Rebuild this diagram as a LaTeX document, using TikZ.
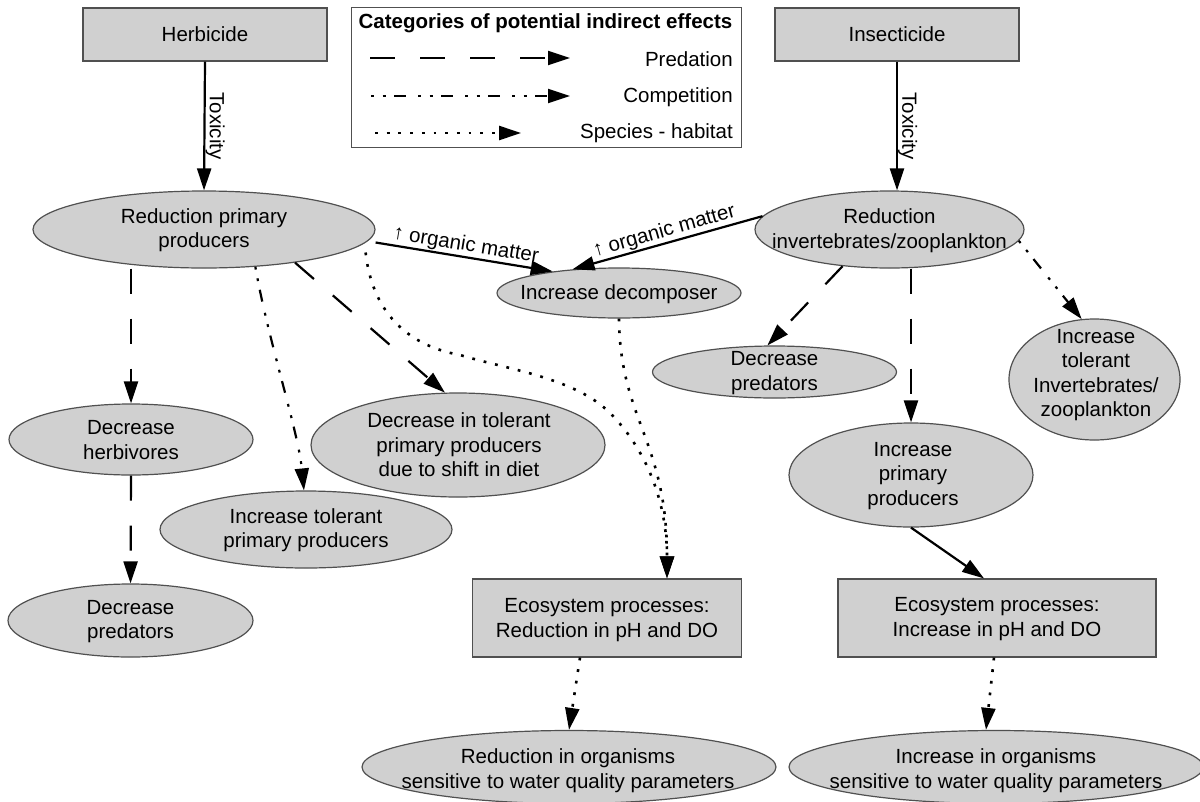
\documentclass[tikz,border=0pt]{standalone}
\usepackage{fontspec}
\setmainfont{Liberation Sans}
\usetikzlibrary{shapes.geometric,arrows.meta}
\definecolor{boxfill}{RGB}{208,208,208}
\definecolor{boxline}{RGB}{80,80,80}
\begin{document}
\begin{tikzpicture}[x=1pt,y=-1pt,
  font=\fontsize{20.5}{24.5}\selectfont,
  ell/.style={ellipse, draw=boxline, fill=boxfill, line width=1.2pt, inner sep=0pt},
  rbox/.style={rectangle, draw=boxline, fill=boxfill, line width=1.2pt, inner sep=0pt},
  txt/.style={align=center, inner sep=0pt},
  tip/.style={-{Triangle[length=22pt,width=14pt]}},
  conn/.style={tip, line width=2.2pt, black},
  pred/.style={conn, dash pattern=on 25pt off 25pt},
  comp/.style={conn, dash pattern=on 2.8pt off 8.9pt on 2.8pt off 8.9pt on 12pt off 11.6pt},
  hab/.style={conn, line width=2.6pt, dash pattern=on 2.8pt off 8.9pt},
  solidc/.style={conn},
]
\useasboundingbox (0,0) rectangle (1200,801);

% ---------- legend ----------
\node[draw=boxline, line width=1.2pt, fill=white, minimum width=390pt, minimum height=140pt, inner sep=0pt, anchor=north west] (leg) at (351,7) {};
\node[anchor=base, inner sep=0pt, font=\fontsize{20.5}{24.5}\selectfont\bfseries] (legt) at (545.5,28.5) {Categories of potential indirect effects};
\coordinate (lp1) at (370,58);  \coordinate (lp2) at (570,58);
\coordinate (lc1) at (371,96);  \coordinate (lc2) at (570,96);
\coordinate (lh1) at (375,133); \coordinate (lh2) at (521,133);
\draw[pred] (lp1) -- (lp2);
\draw[comp] (lc1) -- (lc2);
\draw[hab]  (lh1) -- (lh2);
\node[anchor=base east, inner sep=0pt] (lpt) at (733,66) {Predation};
\node[anchor=base east, inner sep=0pt] (lct) at (733,102) {Competition};
\node[anchor=base east, inner sep=0pt] (lht) at (733,138) {Species - habitat};

% ---------- boxes ----------
\node[rbox, minimum width=244pt, minimum height=53pt] (herb) at (205,34.5) {};
\node[txt] (herb-t) at (herb.center) {Herbicide};
\node[rbox, minimum width=244pt, minimum height=53pt] (ins) at (897,34.5) {};
\node[txt] (ins-t) at (ins.center) {Insecticide};
\node[rbox, minimum width=269pt, minimum height=78pt] (eco1) at (607,618) {};
\node[txt] (eco1-t) at (607,620) {Ecosystem processes:\\Reduction in pH and DO};
\node[rbox, minimum width=318pt, minimum height=78pt] (eco2) at (997,618) {};
\node[txt] (eco2-t) at (997,619) {Ecosystem processes:\\Increase in pH and DO};

% ---------- ellipses ----------
\node[ell, minimum width=342pt, minimum height=77pt] (rpp) at (204,229.5) {};
\node[txt] (rpp-t) at (204,230) {Reduction primary\\producers};
\node[ell, minimum width=269pt, minimum height=77pt] (riz) at (889.5,229.5) {};
\node[txt] (riz-t) at (889.5,230.5) {Reduction\\invertebrates/zooplankton};
\node[ell, minimum width=244pt, minimum height=50pt] (dec) at (619,293) {};
\node[txt] (dec-t) at (619,294) {Increase decomposer};
\node[ell, minimum width=244pt, minimum height=52pt] (dpr) at (774.5,372) {};
\node[txt] (dpr-t) at (774.5,373) {Decrease\\predators};
\node[ell, minimum width=171pt, minimum height=121pt] (itinv) at (1094.5,379.5) {};
\node[txt] (itinv-t) at (1096,375) {Increase\\tolerant\\Invertebrates/\\zooplankton};
\node[ell, minimum width=244pt, minimum height=104pt] (ipp) at (911,475) {};
\node[txt] (ipp-t) at (913,476) {Increase\\primary\\producers};
\node[ell, minimum width=244pt, minimum height=71pt] (dherb) at (131,439.5) {};
\node[txt] (dherb-t) at (131,440) {Decrease\\herbivores};
\node[ell, minimum width=294pt, minimum height=104pt] (dtol) at (458,445) {};
\node[txt] (dtol-t) at (459,445) {Decrease in tolerant\\primary producers\\due to shift in diet};
\node[ell, minimum width=292pt, minimum height=77pt] (itpp) at (306,529.5) {};
\node[txt] (itpp-t) at (306,530) {Increase tolerant\\primary producers};
\node[ell, minimum width=245pt, minimum height=73pt] (dpl) at (130.5,620.5) {};
\node[txt] (dpl-t) at (130.5,621.5) {Decrease\\predators};
\node[ell, minimum width=414pt, minimum height=73pt] (rorg) at (569,767) {};
\node[txt] (rorg-t) at (568,770.5) {Reduction in organisms\\sensitive to water quality parameters};
\node[ell, minimum width=414pt, minimum height=73pt] (iorg) at (996,767) {};
\node[txt] (iorg-t) at (996,770.5) {Increase in organisms\\sensitive to water quality parameters};

% ---------- connectors ----------
\draw[solidc] (herb.south) -- node[midway, rotate=-90, anchor=south, inner sep=0pt] (tox1) {Toxicity} (rpp.north);
\draw[solidc] (ins.south) -- node[midway, rotate=-90, anchor=south, inner sep=0pt] (tox2) {Toxicity} (ins.south |- riz.north);

\draw[solidc] ([yshift=-13pt]rpp.east) -- node[midway, rotate=-9.4, anchor=south, inner sep=1pt] (om1) {↑ organic matter} (dec.162);
\draw[solidc] (riz.174) -- node[midway, rotate=15.8, anchor=south, inner sep=1pt] (om2) {↑ organic matter} (dec.153);

\draw[pred] (dherb.north |- rpp.south) -- (dherb.north);
\draw[pred] (dherb.south) -- (dpl.north);
\draw[comp] (rpp.-36) .. controls (268,340) and (298,430) .. (itpp.93);
\draw[pred] (rpp.-20) -- (dtol.104);
\draw[hab] ([xshift=-10pt,yshift=-23pt]rpp.east) .. controls (372,310) and (405,345) .. (460,355)
   .. controls (510,370) and (575,378) .. (610,413)
   .. controls (645,448) and (667,500) .. ([xshift=60pt]eco1.north);
\draw[hab] (dec.south) .. controls (620,420) and (667,440) .. ([xshift=60pt]eco1.north);

\draw[pred] (riz.-142) -- (dpr.105);
\draw[pred] (ipp.north |- riz.south) -- (ipp.north);
\draw[comp] (riz.-5.5) -- (itinv.102);
\draw[solidc] (ipp.south) -- ([xshift=-13pt]eco2.north);

\draw[hab] ([xshift=-27pt]eco1.south) -- (rorg.north);
\draw[hab] ([xshift=-3pt]eco2.south) -- ([xshift=-10pt]iorg.north);
\end{tikzpicture}
\end{document}
